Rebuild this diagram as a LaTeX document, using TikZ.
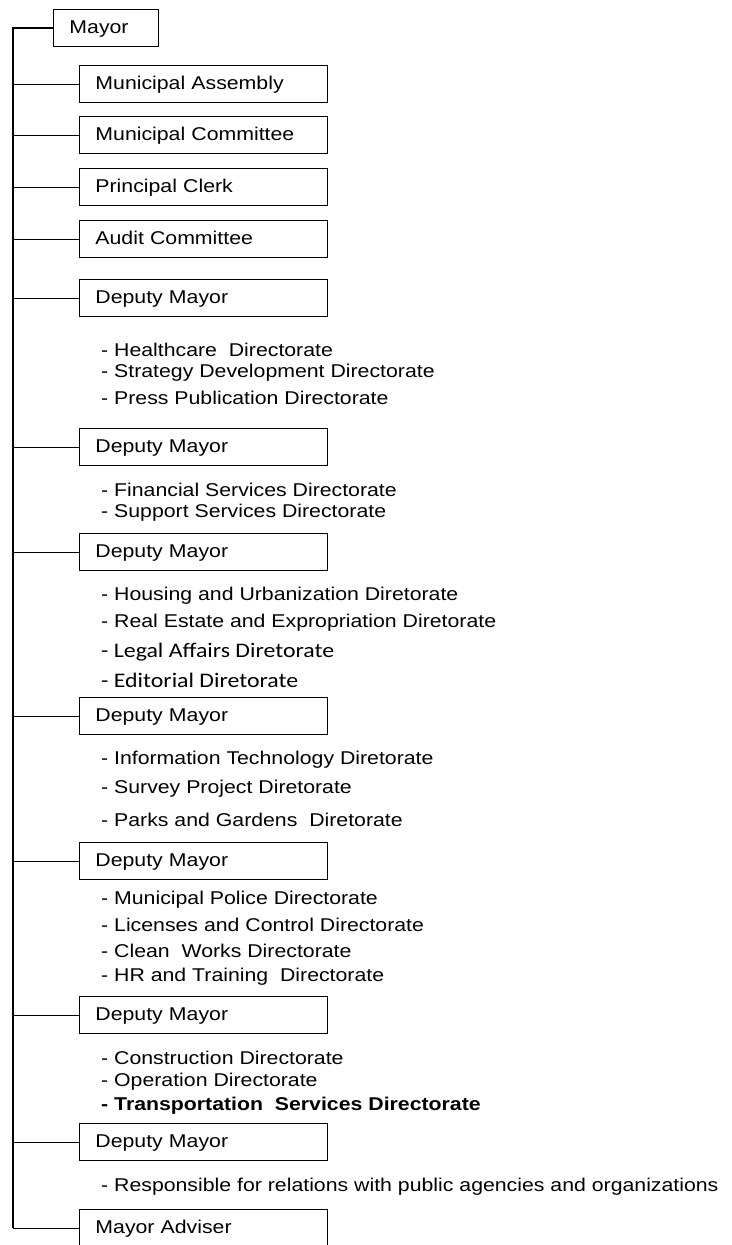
\documentclass[tikz,border=0pt]{standalone}
\usepackage{fontspec}
\setmainfont{Liberation Sans}[FakeStretch=1.15]
\newfontfamily\calfont{Carlito}[FakeStretch=1.15, Scale=1.12]
\usepackage{tikz}
\usetikzlibrary{positioning}
\tikzset{unit/.style={draw, line width=0.9pt, anchor=west, minimum width=248pt, minimum height=37pt,
    text width=216pt, text height=13pt, text depth=3pt, inner xsep=16pt, align=left},
  item/.style={anchor=west, inner sep=0pt}}
\begin{document}
\begin{tikzpicture}[x=1pt, y=-1pt, font=\fontsize{18.5}{21}\selectfont]
\useasboundingbox (0,0) rectangle (731,1245);
\node[unit, minimum width=105pt, text width=73pt] (mayor) at (53,28) {Mayor};
\node[unit] (assembly) at (79,84) {Municipal Assembly};
\node[unit] (committee) at (79,135) {Municipal Committee};
\node[unit] (clerk) at (79,187) {Principal Clerk};
\node[unit] (audit) at (79,239) {Audit Committee};
\node[unit] (dm1) at (79,298) {Deputy Mayor};
\node[unit] (dm2) at (79,447) {Deputy Mayor};
\node[unit] (dm3) at (79,552) {Deputy Mayor};
\node[unit] (dm4) at (79,716) {Deputy Mayor};
\node[unit] (dm5) at (79,861) {Deputy Mayor};
\node[unit] (dm6) at (79,1015) {Deputy Mayor};
\node[unit] (dm7) at (79,1142) {Deputy Mayor};
\node[unit] (adviser) at (79,1228) {Mayor Adviser};
\coordinate (bend) at (13,1228);
%directorates
\foreach \y/\t [count=\i] in {350/{- Healthcare\ \ Directorate},373/{- Strategy Development Directorate},
  398/{- Press Publication Directorate},490/{- Financial Services Directorate},513/{- Support Services Directorate},
  596/{- Housing and Urbanization Diretorate},623/{- Real Estate and Expropriation Diretorate},
  652/{\calfont - Legal Affairs Diretorate},680/{\calfont - Editorial Diretorate},
  760/{- Information Technology Diretorate},789/{- Survey Project Diretorate},
  820/{- Parks and Gardens\ \ Diretorate},900/{- Municipal Police Directorate},
  925/{- Licenses and Control Directorate},951/{- Clean\ \ Works Directorate},977/{- HR and Training\ \ Directorate},
  1058/{- Construction Directorate},1082/{- Operation Directorate},
  1106/{\bfseries - Transportation\ \ Services Directorate},
  1187/{- Responsible for relations with public agencies and organizations}}
  \node[item] (dir\i) at (101,\y) {\t};
\draw[line width=1.6pt] (mayor.west) -| (bend);
\foreach \n in {assembly,committee,clerk,audit,dm1,dm2,dm3,dm4,dm5,dm6,dm7,adviser}
  \draw[line width=0.9pt] (\n.west) -- (\n.west -| bend);
\end{tikzpicture}
\end{document}
